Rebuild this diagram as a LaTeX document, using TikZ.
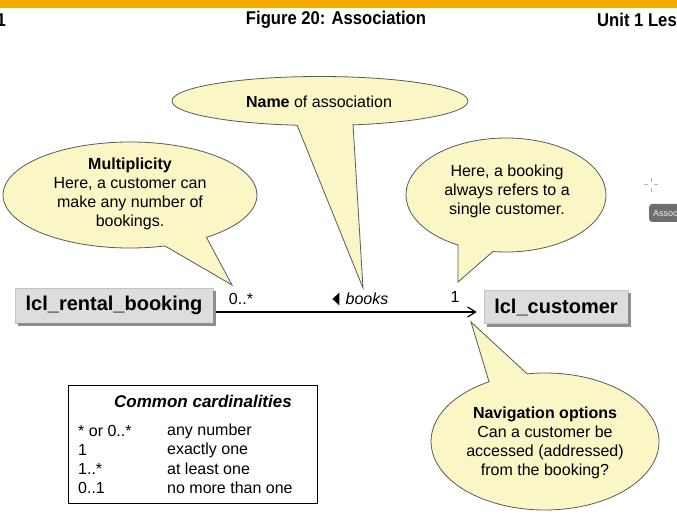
\documentclass[tikz,border=0pt]{standalone}
\usepackage{fontspec}
\setmainfont{Liberation Sans}
\newfontfamily\hdrfont[FakeStretch=0.9]{Liberation Sans}
\usetikzlibrary{calc,arrows.meta}
\definecolor{hdrorange}{HTML}{F2A900}
\definecolor{callfill}{HTML}{FAF6C6}
\definecolor{callline}{HTML}{5A5A5A}
\definecolor{boxfill}{HTML}{DDDDDD}
\definecolor{boxline}{HTML}{C4C4C4}
\definecolor{boxshadow}{HTML}{8E8E8E}
\definecolor{tipgray}{HTML}{6E6E6E}
\tikzset{
  hdr/.style={font=\hdrfont\bfseries\fontsize{18.5}{20}\selectfont, inner sep=0pt},
  callout/.style={fill=callfill, draw=callline, line width=0.8pt, line join=miter},
  ctext/.style={font=\fontsize{16}{19}\selectfont, align=center, inner sep=0pt},
  classbox/.style={fill=boxfill, draw=boxline, line width=0.6pt, inner sep=0pt,
    font=\bfseries\fontsize{20}{24}\selectfont},
  shadowfill/.style={fill=boxshadow},
  assoc/.style={line width=1.2pt, -{Straight Barb[length=8pt,width=10pt,line width=1.2pt]}},
  lbl/.style={font=\fontsize{16}{19}\selectfont, inner sep=0pt},
  cardrow/.style={font=\fontsize{16}{19}\selectfont, inner sep=0pt, anchor=west},
}
\begin{document}
\begin{tikzpicture}[x=1pt,y=-1pt]
\useasboundingbox (0,0) rectangle (677,518);
\clip (0,0) rectangle (677,518);
\fill[white] (0,0) rectangle (677,518);
% header
\fill[hdrorange] (0,0) rectangle (677,8);
\node[hdr, anchor=east] (hdrl) at (6,20) {1};
\node[hdr] (title) at (336,20) {Figure 20: Association};
\node[hdr, anchor=west] (unit) at (597,20) {Unit 1 Lesson};

% callouts
\draw[callout] (232,285) -- ($(130,195)+(74:127 and 53)$)
  arc[start angle=74, end angle=413, x radius=127, y radius=53] -- cycle;
\draw[callout] (363,288) -- ($(320,101)+(98.9:148 and 24.5)$)
  arc[start angle=98.9, end angle=437.1, x radius=148, y radius=24.5] -- cycle;
\draw[callout] (458,282) -- ($(506,195)+(118.7:100 and 57)$)
  arc[start angle=118.7, end angle=457.5, x radius=100, y radius=57] -- cycle;
\draw[callout] (471,322) -- ($(545,441.5)+(261:114 and 68.5)$)
  arc[start angle=261, end angle=600.6, x radius=114, y radius=68.5] -- cycle;

\node[ctext] (multtext) at (130,194) {\textbf{Multiplicity}\\Here, a customer can\\make any number of\\bookings.};
\node[ctext] (nametext) at (319,102) {\textbf{Name} of association};
\node[ctext] (booktext) at (507,191) {Here, a booking\\always refers to a\\single customer.};
\node[ctext] (navtext) at (545,443) {\textbf{Navigation options}\\Can a customer be\\accessed (addressed)\\from the booking?};

% classes
\node[classbox, minimum width=198pt, minimum height=35pt] (bk) at (114,305.5) {lcl\_rental\_booking};
\node[classbox, minimum width=144pt, minimum height=32.5pt] (cu) at (556,307) {lcl\_customer};
\foreach \n in {bk,cu}{
  \fill[shadowfill] ($(\n.north east)+(0,3)$) rectangle ($(\n.south east)+(3,3)$);
  \fill[shadowfill] ($(\n.south west)+(3,0)$) rectangle ($(\n.south east)+(3,3)$);
}

% association
\coordinate (ay) at (0,312);
\draw[assoc, shorten >=7pt] ($(bk.east |- ay)+(3,0)$) -- (cu.west |- ay);
\node[lbl] (multlbl) at (241,299) {0..*};
\node[lbl, font=\itshape\fontsize{16}{19}\selectfont] (books) at (367,299) {books};
\fill ($(books.west)+(-6,-6.5)$) -- ($(books.west)+(-6,6.5)$) -- ($(books.west)+(-13,0)$) -- cycle;
\node[lbl] (onelbl) at (455,297) {1};

% cardinalities box
\node[draw, line width=1pt, minimum width=249pt, minimum height=118pt, inner sep=0pt] (card) at (192.5,444) {};
\node[font=\bfseries\itshape\fontsize{17}{20}\selectfont, inner sep=0pt] (cardtitle) at (203,401) {Common cardinalities};
\node[cardrow] (r1a) at (78,431) {* or 0..*};
\node[cardrow] (r1b) at (167,431) {any number};
\node[cardrow] (r2a) at (78,450) {1};
\node[cardrow] (r2b) at (167,450) {exactly one};
\node[cardrow] (r3a) at (78,469) {1..*};
\node[cardrow] (r3b) at (167,469) {at least one};
\node[cardrow] (r4a) at (78,488) {0..1};
\node[cardrow] (r4b) at (167,488) {no more than one};

% screen artefacts at the right edge
\draw[gray!60, line width=1pt] (644,185) -- (648,185) (654,185) -- (658,185)
  (651,178) -- (651,182) (651,188) -- (651,192);
\node[fill=tipgray, rounded corners=3pt, text=white!85!gray, anchor=west,
  font=\fontsize{9}{10}\selectfont, minimum height=18pt, inner sep=4pt] (tooltip) at (649,213) {Association};
\end{tikzpicture}
\end{document}
